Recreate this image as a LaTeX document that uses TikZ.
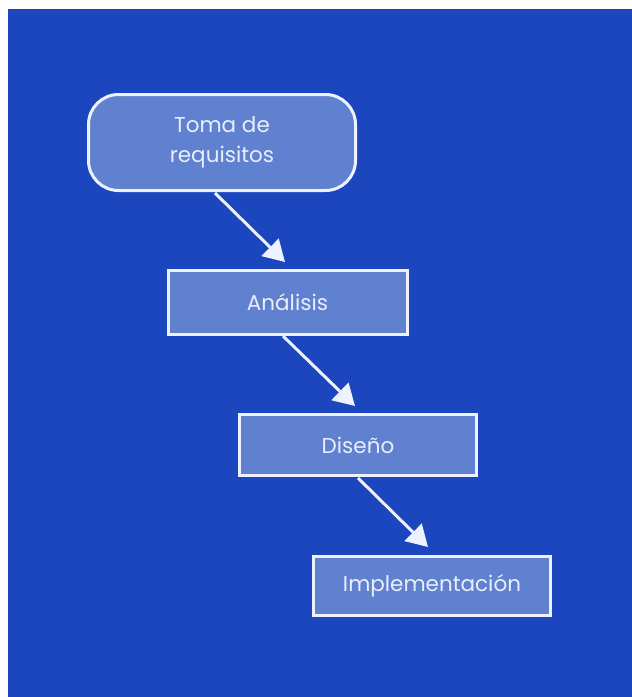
\documentclass[tikz,border=0pt]{standalone}
\usepackage{fontspec}
\setmainfont{Poppins}
\usetikzlibrary{arrows.meta}
\definecolor{bgblue}{RGB}{27,70,190}
\definecolor{boxfill}{RGB}{96,128,208}
\definecolor{edgewhite}{RGB}{238,242,255}
\definecolor{txt}{RGB}{232,238,252}
\tikzset{
  stage/.style={draw=edgewhite, line width=3pt, fill=boxfill, text=txt,
    inner sep=0pt, font=\fontsize{21.5}{30}\selectfont, align=center},
  flowarrow/.style={draw=edgewhite, line width=3pt,
    -{Triangle[length=21pt,width=24pt]}}
}
\begin{document}
\begin{tikzpicture}[x=1pt,y=-1pt]
\fill[white] (0,0) rectangle (632,697);
\fill[bgblue] (8,9) rectangle (632,697);
\node[stage, rounded corners=30pt, minimum width=267pt, minimum height=96pt] (req) at (222,142.5) {Toma de\\requisitos};
\node[stage, minimum width=239pt, minimum height=64pt] (ana) at (287.5,302.5) {Análisis};
\node[stage, minimum width=237pt, minimum height=61pt] (dis) at (358,445) {Diseño};
\node[stage, minimum width=237pt, minimum height=59pt] (imp) at (432,586) {Implementación};
\draw[flowarrow] ([xshift=-7pt,yshift=-1pt]req.south) -- ([xshift=-2.5pt,yshift=7pt]ana.north);
\draw[flowarrow] ([xshift=-4.5pt]ana.south) -- ([xshift=-3pt,yshift=7pt]dis.north);
\draw[flowarrow] ([yshift=-1pt]dis.south) -- ([xshift=-4pt,yshift=8pt]imp.north);
\end{tikzpicture}
\end{document}
